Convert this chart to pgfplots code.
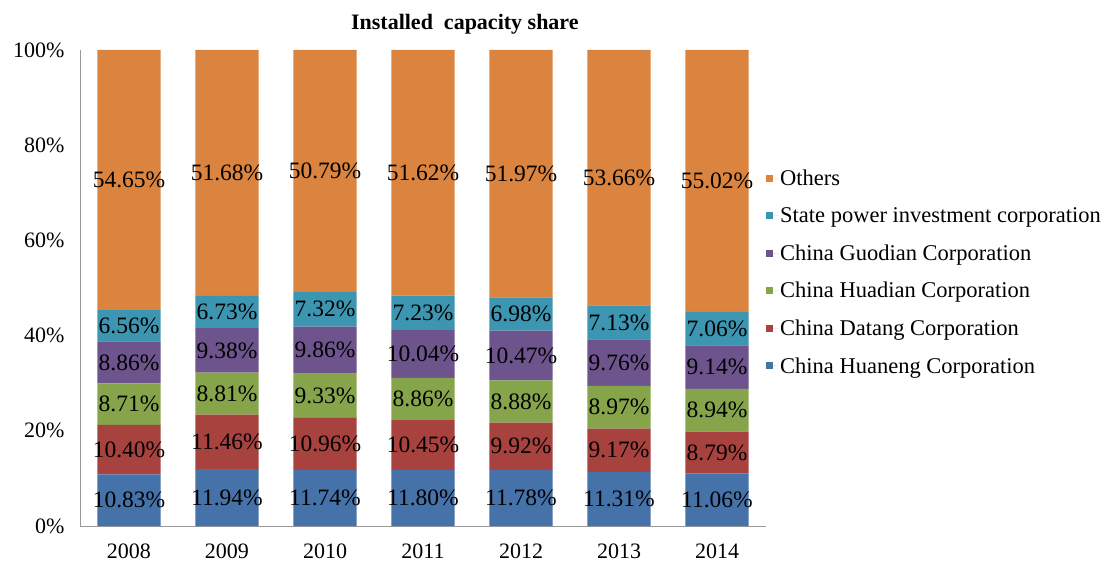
\documentclass[border=0pt]{standalone}
\usepackage{fontspec}
\setmainfont{Liberation Serif}
\usepackage{pgfplots}
\pgfplotsset{compat=1.18}

\definecolor{cHuaneng}{RGB}{70,114,170}
\definecolor{cDatang}{RGB}{168,66,63}
\definecolor{cHuadian}{RGB}{134,164,74}
\definecolor{cGuodian}{RGB}{110,84,141}
\definecolor{cSpic}{RGB}{61,150,177}
\definecolor{cOthers}{RGB}{219,132,63}

\begin{document}
\begin{tikzpicture}[font=\fontsize{22}{26}\selectfont]
\begin{axis}[
  name=ax,
  scale only axis, width=686pt, height=476pt,
  ybar stacked, bar width=0.643,
  xmin=-0.5, xmax=6.5, ymin=0, ymax=100,
  xtick={0,...,6}, xticklabels={2008,2009,2010,2011,2012,2013,2014},
  ytick={0,20,40,60,80,100},
  yticklabel={\pgfmathprintnumber{\tick}\%},
  /pgf/number format/assume math mode=true,
  axis x line*=bottom, axis y line*=left,
  axis line style={draw=gray!80},
  major tick length=0pt,
  yticklabel style={xshift=-12pt},
  xticklabel style={yshift=-14pt},
  title={\textbf{Installed\ \ capacity share}},
  title style={at={(0.561,1)}, anchor=south, yshift=6pt, font=\fontsize{22}{26}\selectfont},
  point meta=rawy,
  nodes near coords={\pgfmathprintnumber[fixed,fixed zerofill,precision=2]{\pgfplotspointmeta}\%},
  every node near coord/.append style={anchor=center, text=black,
    font=\fontsize{23.5}{27}\selectfont},
  reverse legend,
  legend style={draw=none, fill=none, at={(1.0,0.533)}, anchor=west,
    font=\fontsize{22.5}{26}\selectfont, row sep=16.5pt,
    inner xsep=0pt},
  legend cell align=left,
  legend image code/.code={\fill[#1] (0pt,-3.5pt) rectangle (7pt,3.5pt); \path (0pt,0pt) -- (12pt,0pt);},
  clip=false,
]
\addplot[fill=cHuaneng, draw=none] coordinates {(0,10.83) (1,11.94) (2,11.74) (3,11.80) (4,11.78) (5,11.31) (6,11.06)};
\addlegendentry{China Huaneng Corporation}
\addplot[fill=cDatang, draw=none] coordinates {(0,10.40) (1,11.46) (2,10.96) (3,10.45) (4,9.92) (5,9.17) (6,8.79)};
\addlegendentry{China Datang Corporation}
\addplot[fill=cHuadian, draw=none] coordinates {(0,8.71) (1,8.81) (2,9.33) (3,8.86) (4,8.88) (5,8.97) (6,8.94)};
\addlegendentry{China Huadian Corporation}
\addplot[fill=cGuodian, draw=none] coordinates {(0,8.86) (1,9.38) (2,9.86) (3,10.04) (4,10.47) (5,9.76) (6,9.14)};
\addlegendentry{China Guodian Corporation}
\addplot[fill=cSpic, draw=none] coordinates {(0,6.56) (1,6.73) (2,7.32) (3,7.23) (4,6.98) (5,7.13) (6,7.06)};
\addlegendentry{State power investment corporation}
\addplot[fill=cOthers, draw=none] coordinates {(0,54.65) (1,51.68) (2,50.79) (3,51.62) (4,51.97) (5,53.66) (6,55.02)};
\addlegendentry{Others}
\end{axis}
\path (ax.south west) ++(-80pt,-39pt);
\path (ax.north east) ++(337pt,50pt);
\end{tikzpicture}
\end{document}
